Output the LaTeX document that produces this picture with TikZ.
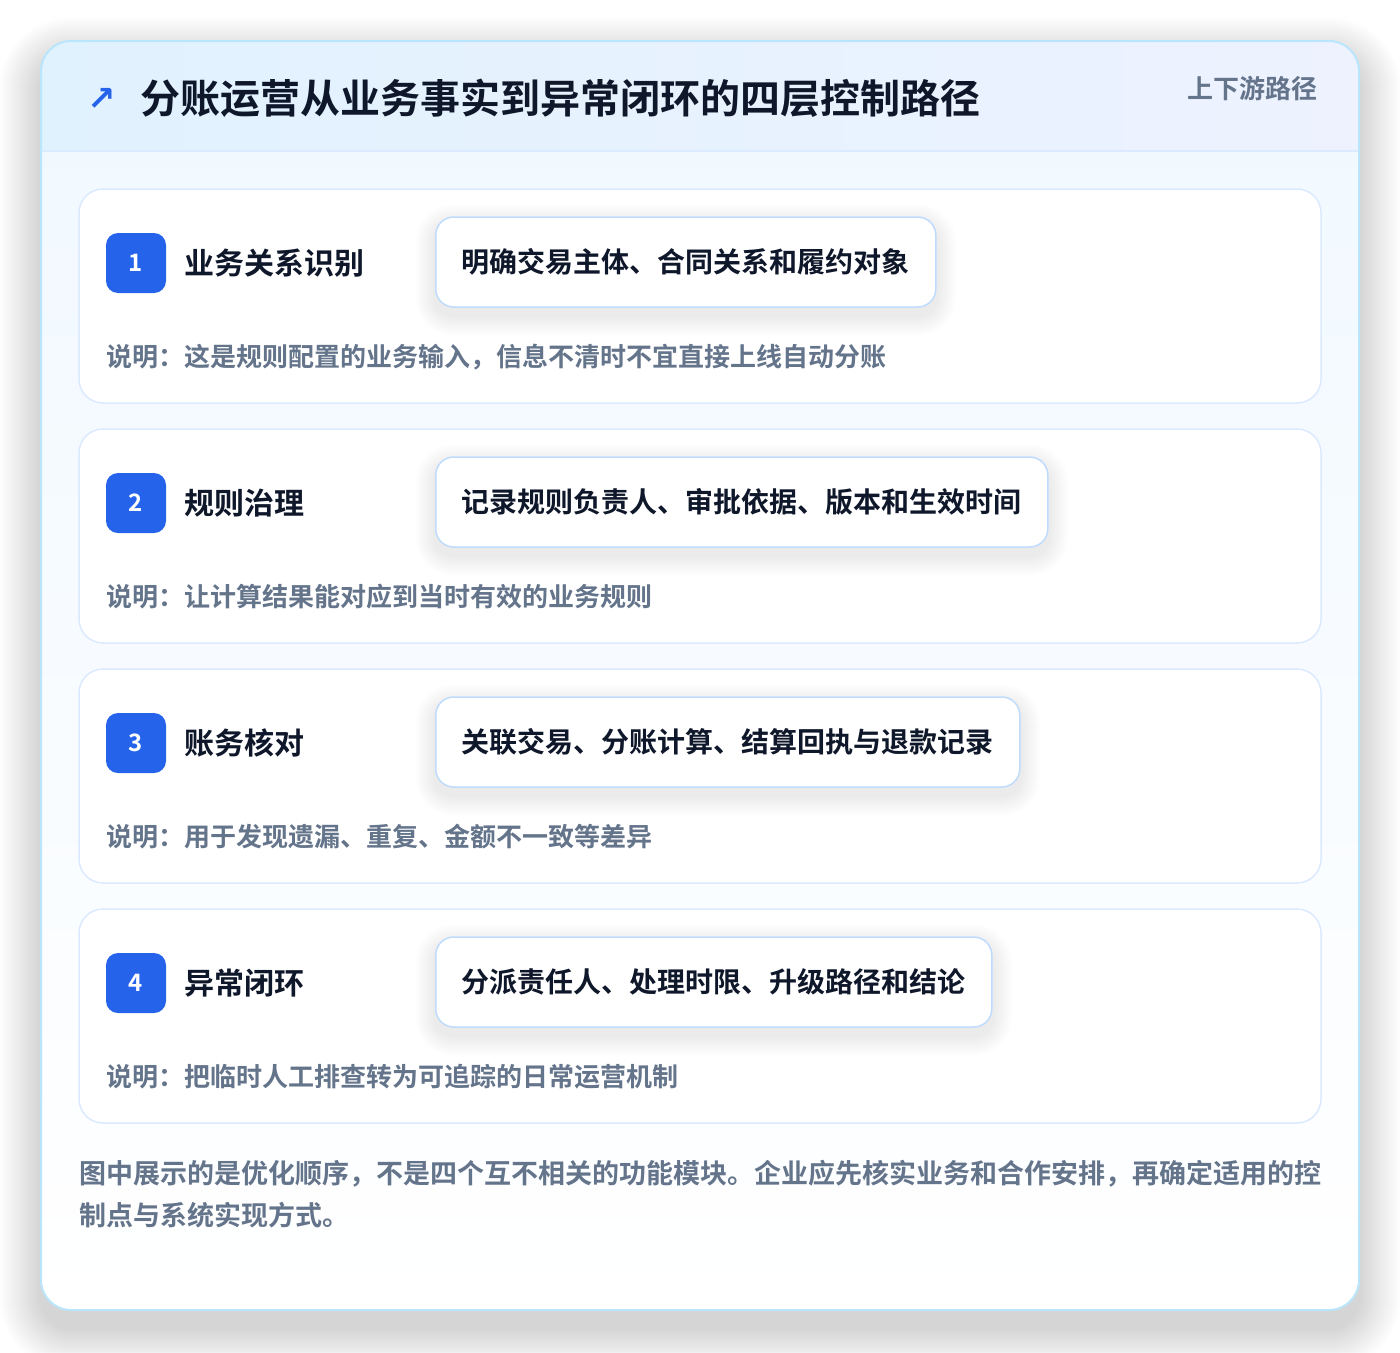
\documentclass[tikz,border=0pt]{standalone}
\usepackage{fontspec}
\setmainfont{Noto Sans CJK SC}[BoldFont={Noto Sans CJK SC Bold}]
\newfontfamily\symfont{DejaVu Sans}
\usetikzlibrary{arrows.meta}
\definecolor{cardborder}{HTML}{BAE6FD}
\definecolor{headL}{HTML}{E0F2FE}
\definecolor{headR}{HTML}{EEF2FF}
\definecolor{stepborder}{HTML}{DBEAFE}
\definecolor{boxborder}{HTML}{BFDBFE}
\definecolor{badge}{HTML}{2563EB}
\definecolor{ink}{HTML}{0F172A}
\definecolor{muted}{HTML}{64748B}
\definecolor{bodytop}{HTML}{F0F8FF}
\definecolor{shadowc}{HTML}{1E293B}
\tikzset{
  stepcard/.style={draw=stepborder, line width=1.5pt, rounded corners=24pt, fill=white},
  badgebox/.style={fill=badge, rounded corners=12pt, minimum width=60pt, minimum height=60pt, inner sep=0pt, text=white, font=\bfseries\fontsize{24}{24}\selectfont},
  steptitle/.style={anchor=west, inner sep=0pt, text=ink, font=\bfseries\fontsize{30}{30}\selectfont},
  contentbox/.style={anchor=west, draw=boxborder, line width=1.5pt, rounded corners=18pt, fill=white, inner xsep=26pt, minimum height=90pt, text=ink, font=\bfseries\fontsize{28}{28}\selectfont},
  softshadow/.style={fill=shadowc, opacity=0.0028},
  desc/.style={anchor=west, inner sep=0pt, text=muted, font=\bfseries\fontsize{26}{26}\selectfont},
}
\begin{document}
\begin{tikzpicture}[x=1pt,y=-1pt]
\useasboundingbox (0,0) rectangle (1400,1352);
\fill[white] (0,0) rectangle (1400,1352);
% outer shadow
\foreach \i in {1,...,42}{
  \fill[shadowc, opacity=0.0022, rounded corners={30+\i}] ({41-\i},{41-\i+18}) rectangle ({1359+\i},{1310+\i+18});
}
% outer card
\path[top color=bodytop, bottom color=white, rounded corners=30pt] (41,41) rectangle (1359,1310);
\begin{scope}
  \clip[rounded corners=30pt] (41,41) rectangle (1359,1310);
  \shade[left color=headL, right color=headR] (41,41) rectangle (1359,151);
  \draw[stepborder, line width=1.5pt] (41,151) -- (1359,151);
\end{scope}
\draw[cardborder, line width=2pt, rounded corners=30pt] (41,41) rectangle (1359,1310);
% header
\node[anchor=center, inner sep=0pt, text=badge, font=\symfont\bfseries\fontsize{34}{34}\selectfont] (icon) at (102,99) {↗};
\node[anchor=west, inner sep=0pt, text=ink, font=\bfseries\fontsize{40}{40}\selectfont] (title) at (140,98) {分账运营从业务事实到异常闭环的四层控制路径};
\node[anchor=east, inner sep=0pt, text=muted, font=\bfseries\fontsize{26}{26}\selectfont] (tag) at (1318,89) {上下游路径};
% steps
\foreach \n/\y/\t/\c/\d in {
  1/189/业务关系识别/明确交易主体、合同关系和履约对象/说明：这是规则配置的业务输入，信息不清时不宜直接上线自动分账,
  2/429/规则治理/记录规则负责人、审批依据、版本和生效时间/说明：让计算结果能对应到当时有效的业务规则,
  3/669/账务核对/关联交易、分账计算、结算回执与退款记录/说明：用于发现遗漏、重复、金额不一致等差异,
  4/909/异常闭环/分派责任人、处理时限、升级路径和结论/说明：把临时人工排查转为可追踪的日常运营机制}{
  \draw[stepcard] (79,\y) rectangle (1321,{\y+214});
  \node[badgebox] (badge\n) at (136,{\y+74}) {\n};
  \node[steptitle] (st\n) at (184,{\y+74}) {\t};
  \path node[contentbox, draw=none, fill=none, text opacity=0] (ph\n) at (435,{\y+73}) {\c};
  \foreach \k in {1,...,20}{
    \fill[softshadow, rounded corners={18+\k}] ([xshift={-\k*1pt}, yshift={\k*1pt-8pt}]ph\n.north west) rectangle ([xshift={\k*1pt}, yshift={-\k*1pt-8pt}]ph\n.south east);
  }
  \node[contentbox] (cb\n) at (435,{\y+73}) {\c};
  \node[desc] (ds\n) at (106,{\y+168}) {\d};
}
% bottom note
\node[anchor=north west, inner sep=0pt, text=muted, align=left, font=\bfseries\fontsize{27}{42}\selectfont] (note) at (79,1160) {图中展示的是优化顺序，不是四个互不相关的功能模块。企业应先核实业务和合作安排，再确定适用的控\\制点与系统实现方式。};
\end{tikzpicture}
\end{document}
